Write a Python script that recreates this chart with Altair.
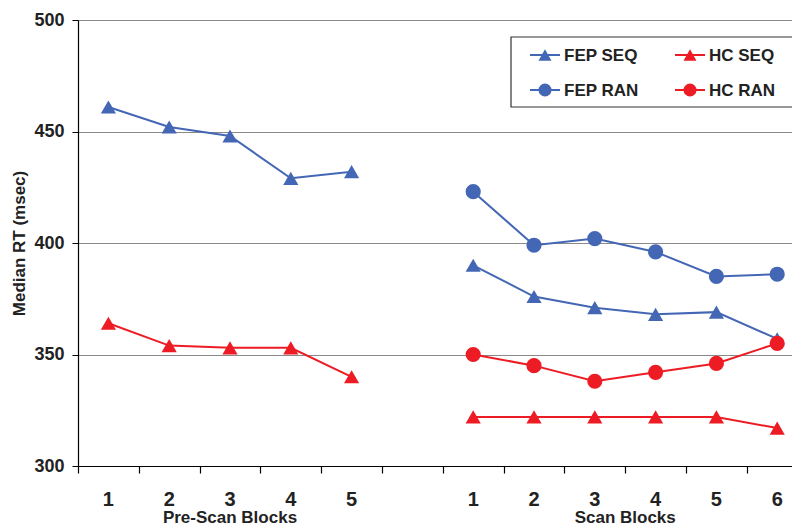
import altair as alt
import pandas as pd

# ---- data ----
pre_blocks = [1, 2, 3, 4, 5]
scan_blocks = [1, 2, 3, 4, 5, 6]
fep_seq_pre = [461, 452, 448, 429, 432]
hc_seq_pre = [364, 354, 353, 353, 340]
fep_seq_scan = [390, 376, 371, 368, 369, 357]
fep_ran_scan = [423, 399, 402, 396, 385, 386]
hc_seq_scan = [322, 322, 322, 322, 322, 317]
hc_ran_scan = [350, 345, 338, 342, 346, 355]
series_names = ["FEP SEQ", "HC SEQ", "FEP RAN", "HC RAN"]
y_ticks = [300, 350, 400, 450, 500]
group_titles = ["Pre-Scan Blocks", "Scan Blocks"]

BLUE = "#4467B5"
RED = "#ED1C24"
FONT = "Liberation Sans"

SCAN_OFFSET = 6  # scan block k sits at position k + 6 (one empty slot gap)

rows = []
for name, vals in [("FEP SEQ", fep_seq_pre), ("HC SEQ", hc_seq_pre)]:
    for b, v in zip(pre_blocks, vals):
        rows.append(dict(series=name, phase="pre", pos=b, value=v))
for name, vals in [("FEP SEQ", fep_seq_scan), ("FEP RAN", fep_ran_scan),
                   ("HC SEQ", hc_seq_scan), ("HC RAN", hc_ran_scan)]:
    for b, v in zip(scan_blocks, vals):
        rows.append(dict(series=name, phase="scan", pos=b + SCAN_OFFSET, value=v))
df = pd.DataFrame(rows)

labels_df = pd.DataFrame(
    [dict(pos=b, label=str(b)) for b in pre_blocks]
    + [dict(pos=b + SCAN_OFFSET, label=str(b)) for b in scan_blocks]
)
titles_df = pd.DataFrame([
    dict(pos=sum(pre_blocks) / len(pre_blocks), label=group_titles[0]),
    dict(pos=sum(scan_blocks) / len(scan_blocks) + SCAN_OFFSET, label=group_titles[1]),
])

PLOT_W = 714
PLOT_H = 446
UNIT = 60.8
x_domain = [0.5, 0.5 + PLOT_W / UNIT]
boundaries = [i + 0.5 for i in range(12)]

x_scale = alt.Scale(domain=x_domain, nice=False, zero=False)
y_scale = alt.Scale(domain=[300, 500], nice=False, zero=False)
color_scale = alt.Scale(domain=series_names, range=[BLUE, RED, BLUE, RED])
shape_scale = alt.Scale(domain=series_names,
                        range=["triangle-up", "triangle-up", "circle", "circle"])

x_enc = alt.X("pos:Q", scale=x_scale,
              axis=alt.Axis(values=boundaries, labels=False, title=None, grid=False,
                            ticks=True, tickSize=7, tickColor="#000", domainColor="#000",
                            domainWidth=1.2, tickWidth=1.2))
y_enc = alt.Y("value:Q", scale=y_scale,
              axis=alt.Axis(values=y_ticks, title="Median RT (msec)", grid=True,
                            gridColor="#8a8a8a", gridWidth=1.2, tickSize=6, tickColor="#000",
                            domainColor="#000", domainWidth=1.2,
                            labelFont=FONT, labelFontSize=18, labelFontWeight="bold",
                            labelColor="#222", labelPadding=8,
                            titleFont=FONT, titleFontSize=17, titleFontWeight="bold",
                            titleColor="#222", titlePadding=5))

lines = alt.Chart(df).mark_line(strokeWidth=2).encode(
    x=x_enc, y=y_enc,
    color=alt.Color("series:N", scale=color_scale, legend=None),
    detail="phase:N",
)
points = alt.Chart(df).mark_point(filled=True, opacity=1, size=230).encode(
    x=alt.X("pos:Q", scale=x_scale),
    y=alt.Y("value:Q", scale=y_scale),
    color=alt.Color("series:N", scale=color_scale, legend=None),
    shape=alt.Shape("series:N", scale=shape_scale, legend=None),
)

num_labels = alt.Chart(labels_df).mark_text(
    font=FONT, fontSize=20, fontWeight="bold", color="#222", baseline="middle"
).encode(x=alt.X("pos:Q", scale=x_scale), y=alt.value(PLOT_H + 34), text="label:N")

grp_titles = alt.Chart(titles_df).mark_text(
    font=FONT, fontSize=17, fontWeight="bold", color="#222", baseline="alphabetic"
).encode(x=alt.X("pos:Q", scale=x_scale), y=alt.value(PLOT_H + 57), text="label:N")

# ---- manual legend (line + marker + label) ----
legend_box = alt.Chart(pd.DataFrame({"a": [0]})).mark_rect(
    fill="white", stroke="#333", strokeWidth=1.2
).encode(x=alt.value(433), x2=alt.value(760), y=alt.value(17), y2=alt.value(87))

legend_layers = [legend_box]
col_x = [(452, 482, 467, 486), (597, 627, 612, 631)]
row_y = [35, 70]
legend_pos = {"FEP SEQ": (0, 0), "HC SEQ": (1, 0), "FEP RAN": (0, 1), "HC RAN": (1, 1)}
colors = dict(zip(series_names, [BLUE, RED, BLUE, RED]))
shapes = dict(zip(series_names, ["triangle-up", "triangle-up", "circle", "circle"]))
one = pd.DataFrame({"a": [0]})
for name in series_names:
    c, r = legend_pos[name]
    x0, x1, xm, xt = col_x[c]
    yy = row_y[r]
    legend_layers.append(alt.Chart(one).mark_rule(color=colors[name], strokeWidth=2).encode(
        x=alt.value(x0), x2=alt.value(x1), y=alt.value(yy)))
    legend_layers.append(alt.Chart(one).mark_point(
        filled=True, opacity=1, size=170, shape=shapes[name], color=colors[name]
    ).encode(x=alt.value(xm), y=alt.value(yy)))
    legend_layers.append(alt.Chart(one).mark_text(
        text=name, font=FONT, fontSize=17, fontWeight="bold", color="#222",
        align="left", baseline="middle"
    ).encode(x=alt.value(xt), y=alt.value(yy + 1)))

chart = alt.layer(lines, points, num_labels, grp_titles, *legend_layers).properties(
    width=PLOT_W, height=PLOT_H,
    autosize=alt.AutoSizeParams(type="none"),
    padding={"left": 70, "top": 12, "right": 0, "bottom": 61},
).configure_view(stroke=None).configure(background="white")

chart.save("out.html", embed_options={"renderer": "svg", "actions": False})
